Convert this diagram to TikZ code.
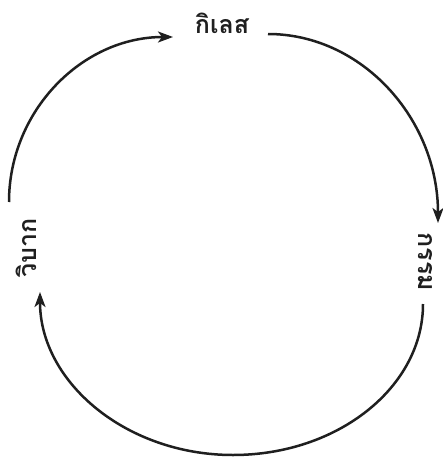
\documentclass[tikz,border=0pt]{standalone}
\usepackage{fontspec}
\newfontfamily\thaifont[Script=Thai]{Loma}
\usetikzlibrary{arrows.meta}
\begin{document}
\begin{tikzpicture}[x=1pt,y=-1pt,
  lbl/.style={font=\thaifont\bfseries\fontsize{25}{28}\selectfont, text=black!88, inner sep=0pt},
  cyc/.style={line width=2.5pt, draw=black!88, -{Stealth[length=15pt,width=11pt,inset=4pt]}}]
\useasboundingbox (0,0) rectangle (443,458);
\node[lbl] (kilet) at (222,23) {กิเลส};
\node[lbl, rotate=-90] (karma) at (425,262) {กรรม};
\node[lbl, rotate=90] (vibak) at (26,248) {วิบาก};
\coordinate (a1s) at (9,202);
\coordinate (a1e) at (173,37);
\coordinate (a2s) at (268,34);
\coordinate (a2e) at (438,223);
\coordinate (a3s) at (423,304);
\coordinate (a3m) at (233,455);
\coordinate (a3e) at (40,292);
\draw[cyc] (a1s) .. controls (9,111) and (82,37) .. (a1e);
\draw[cyc] (a2s) .. controls (362,34) and (438,119) .. (a2e);
\draw[cyc] (a3s) .. controls (423,387) and (338,455) .. (a3m)
  .. controls (126,455) and (40,382) .. (a3e);
\end{tikzpicture}
\end{document}
